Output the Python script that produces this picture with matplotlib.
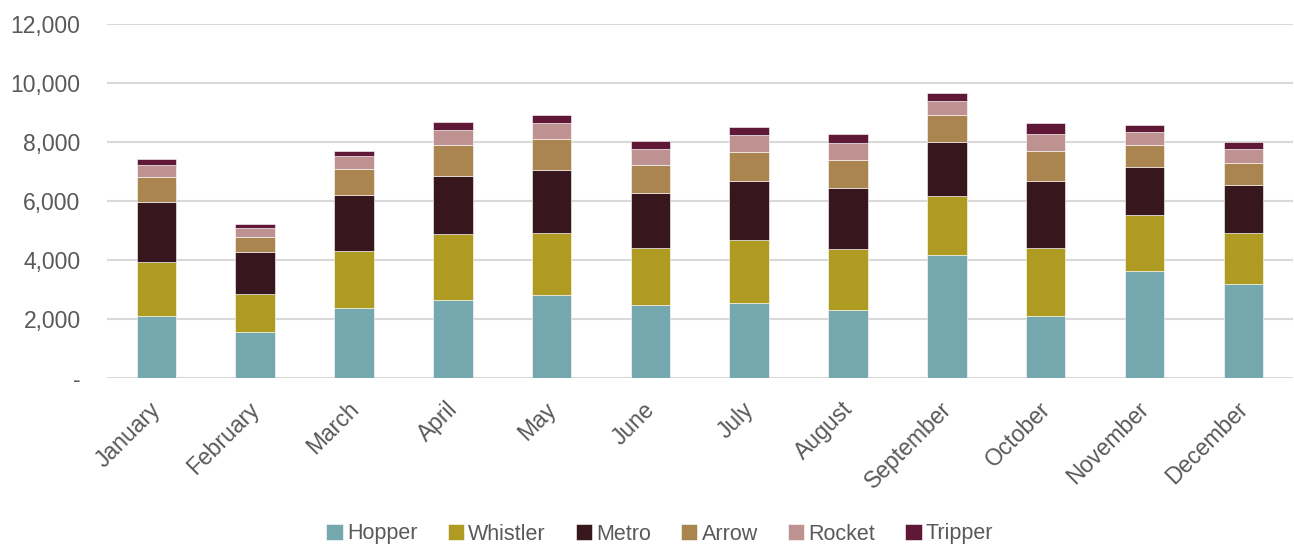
import matplotlib
matplotlib.use("Agg")
import matplotlib.pyplot as plt
import matplotlib.transforms as mtransforms
import numpy as np
from matplotlib.ticker import FuncFormatter

months = ["January", "February", "March", "April", "May", "June", "July",
          "August", "September", "October", "November", "December"]
series_names = ["Hopper", "Whistler", "Metro", "Arrow", "Rocket", "Tripper"]
hopper   = [2100, 1580, 2395, 2667, 2814, 2475, 2554, 2316, 4169, 2102, 3627, 3186]
whistler = [1855, 1288, 1933, 2237, 2124, 1943, 2147, 2079, 2012, 2327, 1921, 1752]
metro    = [2022, 1424, 1898, 1943, 2135, 1853, 1977, 2068, 1842, 2272, 1627, 1627]
arrow    = [859, 508, 881, 1074, 1051, 972, 1006, 949, 904, 1017, 746, 734]
rocket   = [396, 283, 418, 508, 520, 520, 576, 554, 474, 576, 429, 475]
tripper  = [192, 135, 181, 272, 271, 271, 248, 305, 260, 350, 226, 226]
colors = ["#75A7AE", "#AF9B22", "#38161E", "#AA8550", "#BE9290", "#601837"]

plt.rcParams['font.family'] = ['Liberation Sans', 'DejaVu Sans']

fig = plt.figure(figsize=(12.94, 5.48), dpi=100)
ax = fig.add_axes([107/1294, 169.7/548, 1 - 107/1294 - 0.001, 354/548])

x = np.arange(len(months))
bottom = np.zeros(len(months))
data = [hopper, whistler, metro, arrow, rocket, tripper]
for name, vals, c in zip(series_names, data, colors):
    ax.bar(x, vals, width=0.4, bottom=bottom, color=c, label=name,
           edgecolor="white", linewidth=0.4, zorder=3)
    bottom += np.array(vals)

ax.set_xlim(-0.5, len(months) - 0.5)
ax.set_ylim(0, 12000)
ax.set_yticks(np.arange(0, 12001, 2000))
ax.yaxis.set_major_formatter(FuncFormatter(lambda v, p: "-" if v == 0 else f"{int(v):,}"))
ax.grid(axis="y", color="#D9D9D9", linewidth=1.5, zorder=0)
ax.set_axisbelow(True)
for s in ax.spines.values():
    s.set_visible(False)
ax.tick_params(axis="both", length=0, labelsize=16.5, labelcolor="#595959")
ax.tick_params(axis="y", pad=19)
ax.set_xticks(x)
ax.set_xticklabels(months, rotation=45, ha="right", rotation_mode="anchor")
ax.tick_params(axis="x", pad=14)
offset = mtransforms.ScaledTranslation(-7/100, 0, fig.dpi_scale_trans)
for lbl in ax.get_xticklabels():
    lbl.set_transform(lbl.get_transform() + offset)

leg = fig.legend(loc="center", bbox_to_anchor=(0.51, 14/548), ncol=6, frameon=False,
                 handlelength=0.75, handleheight=0.75, handletextpad=0.2,
                 columnspacing=1.4,
                 prop={"family": ["Liberation Sans"], "size": 15.5})
for t in leg.get_texts():
    t.set_color("#595959")

fig.savefig("out.png", dpi=100)
